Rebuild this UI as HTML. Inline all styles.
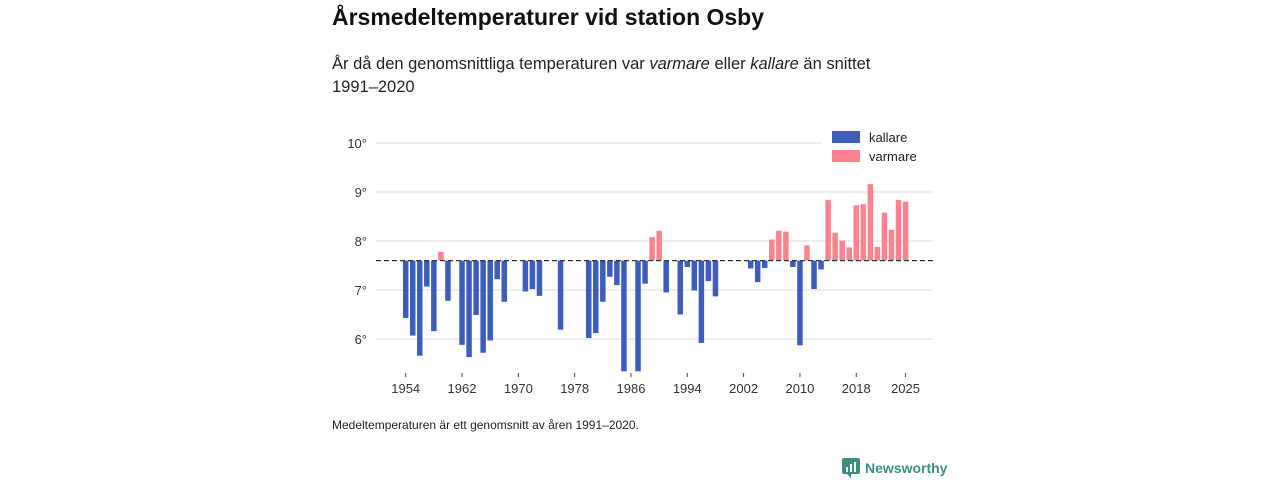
<!DOCTYPE html>
<html><head><meta charset="utf-8"><style>
body{margin:0;width:1280px;height:480px;background:#fff;font-family:"Liberation Sans","DejaVu Sans",sans-serif;color:#222;position:relative;overflow:hidden}
.t{position:absolute;left:332px;top:4px;font-size:23px;font-weight:bold;color:#111}
.s{position:absolute;left:332px;top:53px;font-size:16.5px;line-height:23px;color:#222;width:570px}
.f{position:absolute;left:332px;top:418px;font-size:12px;color:#222}
.logo{position:absolute;left:842px;top:458px;font-size:14px;color:#3b8f82;font-weight:bold;display:flex;align-items:center;gap:5px}
</style></head><body>
<div class="t">Årsmedeltemperaturer vid station Osby</div>
<div class="s">År då den genomsnittliga temperaturen var <i>varmare</i> eller <i>kallare</i> än snittet<br>1991–2020</div>
<svg id="c" width="1280" height="480" style="position:absolute;left:0;top:0"></svg>
<div class="f">Medeltemperaturen är ett genomsnitt av åren 1991–2020.</div>
<div class="logo"><svg width="18" height="20" viewBox="0 0 18 20"><rect x="0" y="0" width="18" height="16" rx="2" fill="#3b8f82"/><polygon points="5,16 9,20 9,16" fill="#3b8f82"/><rect x="4" y="9" width="2" height="5" fill="#fff"/><rect x="8" y="6" width="2" height="8" fill="#fff"/><rect x="12" y="4" width="2" height="10" fill="#fff"/></svg><span>Newsworthy</span></div>
<script>
const years=[1954,1955,1956,1957,1958,1959,1960,1962,1963,1964,1965,1966,1967,1968,1971,1972,1973,1976,1980,1981,1982,1983,1984,1985,1987,1988,1989,1990,1991,1993,1994,1995,1996,1997,1998,2003,2004,2005,2006,2007,2008,2009,2010,2011,2012,2013,2014,2015,2016,2017,2018,2019,2020,2021,2022,2023,2024,2025];
const temps=[6.43,6.07,5.66,7.07,6.16,7.78,6.78,5.88,5.63,6.49,5.72,5.97,7.22,6.76,6.97,7.02,6.88,6.19,6.02,6.12,6.76,7.27,7.10,5.34,5.34,7.13,8.08,8.21,6.95,6.50,7.47,6.99,5.92,7.18,6.87,7.44,7.16,7.45,8.03,8.21,8.19,7.47,5.87,7.91,7.02,7.42,8.84,8.17,8.01,7.87,8.73,8.75,9.16,7.88,8.58,8.23,8.84,8.80];
const yTicks=[6,7,8,9,10];
const xTicks=[1954,1962,1970,1978,1986,1994,2002,2010,2018,2025];
const avg=7.6;
const svg=document.getElementById('c');const NS='http://www.w3.org/2000/svg';
const X=y=>405.7+(y-1954)*7.04;
const Y=v=>339-(v-6)*49;
function mk(t,a,p){const e=document.createElementNS(NS,t);for(const k in a)e.setAttribute(k,a[k]);(p||svg).appendChild(e);return e;}
yTicks.forEach(v=>{
 const l=mk('line',{x1:376,x2:933,y1:Y(v),y2:Y(v),stroke:'#ddd','stroke-width':1});
 
 
 const t=mk('text',{x:367,y:Y(v)+5,'text-anchor':'end','font-size':13,fill:'#333'});t.textContent=v+'°';
 
 
});
xTicks.forEach(y=>{
 const l=mk('line',{x1:X(y),x2:X(y),y1:373,y2:377,stroke:'#444'});
 
 
 const t=mk('text',{x:X(y),y:393,'text-anchor':'middle','font-size':13,fill:'#333'});t.textContent=y;
 
 
});
years.forEach((yr,i)=>{
 const v=temps[i];const top=Math.min(Y(v),Y(avg));const h=Math.abs(Y(v)-Y(avg));
 const r=mk('rect',{x:X(yr)-2.75,y:top,width:5.5,height:h,fill:v>avg?'#fd8290':'#3d5dbd'});
 
 
});
const d=mk('line',{x1:376,x2:933,y1:Y(avg),y2:Y(avg),stroke:'#333','stroke-width':1.3,'stroke-dasharray':'5,3'});


const lg=mk('g',{});


mk('rect',{x:822,y:126,width:112,height:42,fill:'#fff'},lg);
[['kallare','#3d5dbd',131],['varmare','#fd8290',150]].forEach(([n,c,y])=>{
 const r=mk('rect',{x:832,y:y,width:28,height:12,fill:c},lg);
 
 
 const t=mk('text',{x:869,y:y+11,'font-size':13,fill:'#222'},lg);t.textContent=n;
 
 
});
</script>
</body></html>
